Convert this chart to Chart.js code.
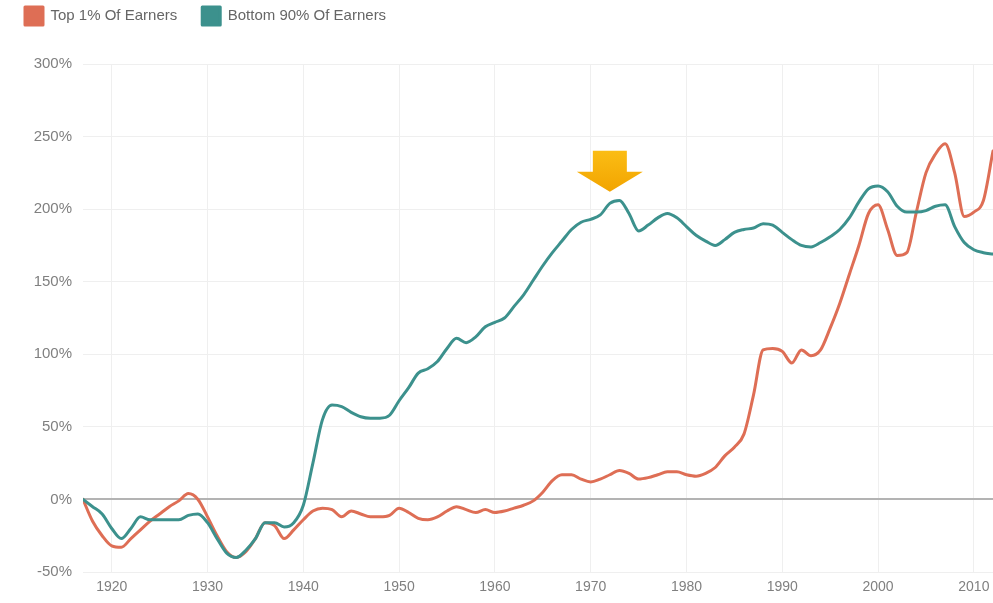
<!DOCTYPE html>
<html>
<head>
<meta charset="utf-8">
<script src="https://cdn.jsdelivr.net/npm/chart.js@4.4.1/dist/chart.umd.min.js"></script>
<style>
  html, body { margin: 0; padding: 0; background: #fff; }
  #wrap { width: 993px; height: 603px; position: relative; }
</style>
</head>
<body>
<div id="wrap"><canvas id="incomeChart"></canvas></div>
<script>
// Cumulative income growth by group since 1917
const years = [
  1917, 1918, 1919, 1920, 1921, 1922, 1923, 1924, 1925, 1926, 1927, 1928, 1929,
  1930, 1931, 1932, 1933, 1934, 1935, 1936, 1937, 1938, 1939,
  1940, 1941, 1942, 1943, 1944, 1945, 1946, 1947, 1948, 1949,
  1950, 1951, 1952, 1953, 1954, 1955, 1956, 1957, 1958, 1959,
  1960, 1961, 1962, 1963, 1964, 1965, 1966, 1967, 1968, 1969,
  1970, 1971, 1972, 1973, 1974, 1975, 1976, 1977, 1978, 1979,
  1980, 1981, 1982, 1983, 1984, 1985, 1986, 1987, 1988, 1989,
  1990, 1991, 1992, 1993, 1994, 1995, 1996, 1997, 1998, 1999,
  2000, 2001, 2002, 2003, 2004, 2005, 2006, 2007, 2008, 2009,
  2010, 2011, 2012
];

const top1 = [
  0, -15, -25, -32, -33, -27, -21, -15, -10, -5, -1, 4, 0,
  -12, -25, -36, -40, -36, -27, -16, -18, -27, -21,
  -14, -8, -6, -7, -12, -8, -10, -12, -12, -11,
  -6, -9, -13, -14, -12, -8, -5, -7, -9, -7,
  -9, -8, -6, -4, -1, 5, 13, 17, 17, 14,
  12, 14, 17, 20, 18, 14, 15, 17, 19, 19,
  17, 16, 18, 22, 30, 36, 45, 72, 103, 104,
  102, 94, 103, 99, 103, 118, 135, 155, 175, 197,
  203, 186, 168, 170, 198, 225, 238, 245, 225, 195,
  198, 206, 240
];

const bottom90 = [
  0, -5, -10, -20, -27, -20, -12, -14, -14, -14, -14, -11, -10,
  -16, -27, -37, -40, -35, -27, -16, -16, -19, -16,
  -4, 25, 55, 65, 64, 60, 57, 56, 56, 58,
  68, 77, 87, 90, 95, 104, 111, 108, 112, 119,
  122, 125, 133, 141, 151, 161, 170, 178, 186, 191,
  193, 196, 204, 206, 197, 185, 189, 194, 197, 194,
  188, 182, 178, 175, 179, 184, 186, 187, 190, 189,
  184, 179, 175, 174, 177, 181, 186, 194, 205, 214,
  216, 212, 202, 198, 198, 199, 202, 203, 188, 177,
  172, 170, 169
];

const yearTicks = [1920, 1930, 1940, 1950, 1960, 1970, 1980, 1990, 2000, 2010];
const seriesNames = ['Top 1% Of Earners', 'Bottom 90% Of Earners'];

// the yellow arrow points at the early-70s peak of the bottom 90%
const arrowYear = 1972;
const arrowValue = 212;

const ORANGE = '#de6e55';
const TEAL = '#3c918d';
const FONT = "'Liberation Sans', Arial, sans-serif";

// push the plot area down below the legend
const legendSpacer = {
  id: 'legendSpacer',
  beforeLayout(chart) {
    const legend = chart.legend;
    if (legend && !legend._spaced) {
      const fit = legend.fit;
      legend.fit = function () {
        fit.call(this);
        this.height = 82;
      };
      legend._spaced = true;
    }
  }
};

const arrowPlugin = {
  id: 'peakArrow',
  afterDatasetsDraw(chart) {
    const { ctx, scales: { x, y } } = chart;
    const tipX = x.getPixelForValue(arrowYear);
    const tipY = y.getPixelForValue(arrowValue);
    ctx.save();
    const grad = ctx.createLinearGradient(0, tipY - 41, 0, tipY);
    grad.addColorStop(0, '#fbbd14');
    grad.addColorStop(1, '#f2a400');
    ctx.fillStyle = grad;
    ctx.beginPath();
    ctx.moveTo(tipX - 17, tipY - 41);
    ctx.lineTo(tipX + 17, tipY - 41);
    ctx.lineTo(tipX + 17, tipY - 20);
    ctx.lineTo(tipX + 33, tipY - 20);
    ctx.lineTo(tipX, tipY);
    ctx.lineTo(tipX - 33, tipY - 20);
    ctx.lineTo(tipX - 17, tipY - 20);
    ctx.closePath();
    ctx.fill();
    ctx.restore();
  }
};

const ctx = document.getElementById('incomeChart').getContext('2d');
const incomeChart = new Chart(ctx, {
  type: 'line',
  data: {
    datasets: [{
      label: seriesNames[0],
      data: years.map((yr, i) => ({ x: yr, y: top1[i] })),
      borderColor: ORANGE,
      backgroundColor: ORANGE,
      borderWidth: 3,
      order: 1
    }, {
      label: seriesNames[1],
      data: years.map((yr, i) => ({ x: yr, y: bottom90[i] })),
      borderColor: TEAL,
      backgroundColor: TEAL,
      borderWidth: 3,
      order: 0
    }]
  },
  options: {
    responsive: true,
    maintainAspectRatio: false,
    animation: false,
    layout: { padding: { top: -18, left: 0, right: 0, bottom: 0 } },
    elements: {
      point: { radius: 0, hoverRadius: 0 },
      line: { tension: 0.4, cubicInterpolationMode: 'monotone', borderCapStyle: 'round', borderJoinStyle: 'round' }
    },
    plugins: {
      legend: {
        position: 'top',
        align: 'start',
        labels: {
          boxWidth: 18,
          boxHeight: 18,
          padding: 25,
          color: '#666',
          font: { family: FONT, size: 15 },
          sort: (a, b) => a.datasetIndex - b.datasetIndex
        }
      },
      tooltip: { enabled: false }
    },
    scales: {
      x: {
        type: 'linear',
        min: 1917,
        max: 2012,
        afterBuildTicks: scale => { scale.ticks = yearTicks.map(v => ({ value: v })); },
        afterFit: scale => {
          scale.height = 31;
          scale.paddingLeft = 0;
          scale.paddingRight = 0;
        },
        border: { display: false },
        grid: { color: '#efefef', drawTicks: false },
        ticks: {
          color: '#808080',
          padding: 7,
          maxRotation: 0,
          font: { family: FONT, size: 14 },
          callback: v => String(v)
        }
      },
      y: {
        min: -50,
        max: 300,
        afterFit: scale => {
          scale.width = 83;
          scale.paddingTop = 0;
          scale.paddingBottom = 0;
        },
        border: { display: false },
        grid: {
          drawTicks: false,
          color: c => c.tick.value === 0 ? '#b3b3b3' : '#efefef',
          lineWidth: c => c.tick.value === 0 ? 2 : 1
        },
        ticks: {
          stepSize: 50,
          color: '#808080',
          padding: 11,
          font: { family: FONT, size: 15 },
          callback: v => v + '%'
        }
      }
    }
  },
  plugins: [legendSpacer, arrowPlugin]
});
</script>
</body>
</html>
